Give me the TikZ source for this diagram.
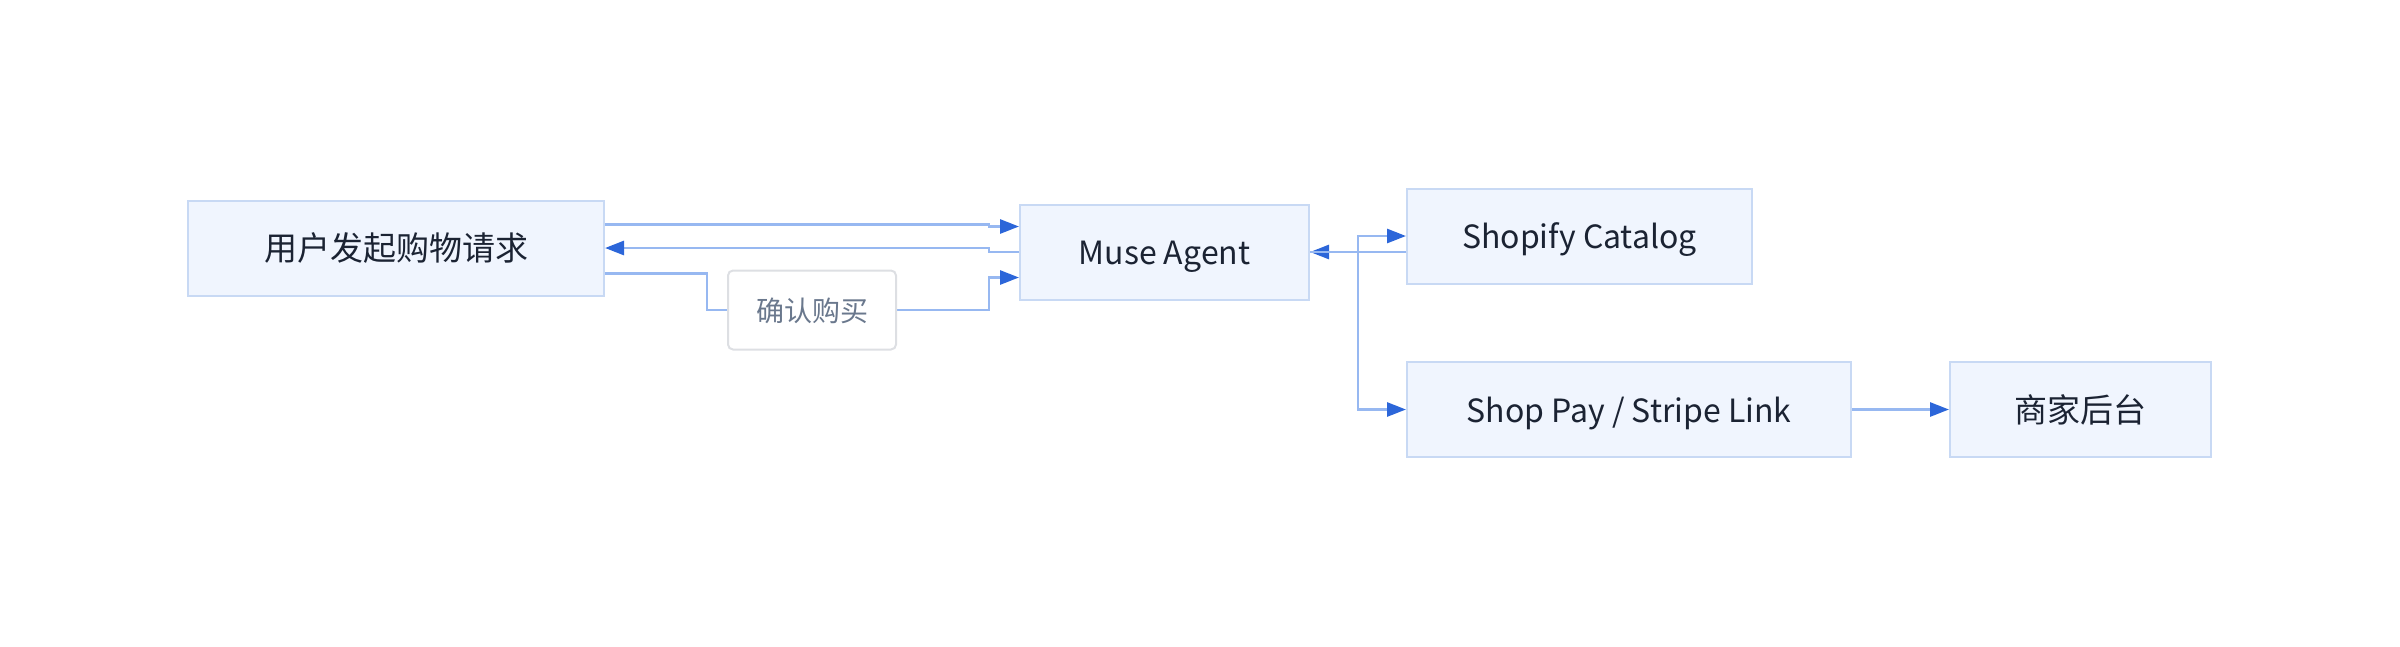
\documentclass[tikz,border=0pt]{standalone}
\usepackage{fontspec}
\setmainfont{Noto Sans CJK SC}
\usetikzlibrary{arrows.meta,calc}
\definecolor{boxfill}{HTML}{F0F5FE}
\definecolor{boxline}{HTML}{C8D9F4}
\definecolor{edgeline}{HTML}{97B8F1}
\definecolor{tipblue}{HTML}{2C66D9}
\definecolor{txt}{HTML}{1B2333}
\definecolor{lblline}{HTML}{DDDFE3}
\definecolor{lbltxt}{HTML}{6A788D}
\tikzset{
  procbox/.style={draw=boxline, line width=2pt, fill=boxfill, inner sep=0pt,
    minimum height=95pt, text=txt, text height=25pt, text depth=0pt,
    font=\fontsize{32}{38}\selectfont},
  cjkbox/.style={procbox, font=\fontsize{33}{38}\selectfont},
  lblbox/.style={draw=lblline, line width=2pt, fill=white, rounded corners=5pt,
    inner sep=0pt, minimum width=168pt, minimum height=79pt, text=lbltxt,
    text height=22pt, text depth=0pt,
    font=\fontsize{28}{34}\selectfont},
  edge/.style={draw=edgeline, line width=2.8pt,
    -{Triangle[length=19pt,width=14pt,color=tipblue,fill=tipblue]}}
}
\begin{document}
\begin{tikzpicture}[x=1pt,y=-1pt]
\useasboundingbox (0,0) rectangle (2400,646);
\node[cjkbox, minimum width=416pt] (user) at (396,248) {用户发起购物请求};
\node[procbox, minimum width=289pt] (muse) at (1164.5,252) {Muse Agent};
\node[procbox, minimum width=345pt] (shopify) at (1579.5,236) {Shopify Catalog};
\node[procbox, minimum width=444pt] (pay) at (1629,409.5) {Shop Pay / Stripe Link};
\node[cjkbox, minimum width=261pt] (merchant) at (2080.5,409.5) {商家后台};
\coordinate (jx) at (989,0);
\coordinate (kx) at (1358,0);
% user -> muse
\draw[edge] ($(user.north east)+(0,25)$) -- (jx |- {$(user.north east)+(0,25)$}) -- (jx |- {$(muse.north west)+(0,23)$}) -- ($(muse.north west)+(0,23)$);
% muse -> user
\draw[edge] (muse.west) -- (jx |- muse.west) -- (jx |- user.east) -- (user.east);
% user -> muse via confirm label
\coordinate (c1) at ($(user.south east)+(0,-23)$);
\coordinate (c2) at ($(muse.south west)+(0,-23)$);
\draw[edge] (c1) -- (707,0 |- c1) -- (707,310) -- (jx |- 0,310) -- (jx |- c2) -- (c2);
\node[lblbox] (confirm) at (812,310) {确认购买};
% shopify -> muse
\draw[edge] ($(shopify.west)+(0,16)$) -- (muse.east);
% muse -> shopify / pay
\draw[edge] (muse.east) -- (kx |- muse.east) -- (kx |- shopify.west) -- (shopify.west);
\draw[edge] (muse.east) -- (kx |- muse.east) -- (kx |- pay.west) -- (pay.west);
% pay -> merchant
\draw[edge] (pay.east) -- (merchant.west);
\end{tikzpicture}
\end{document}
